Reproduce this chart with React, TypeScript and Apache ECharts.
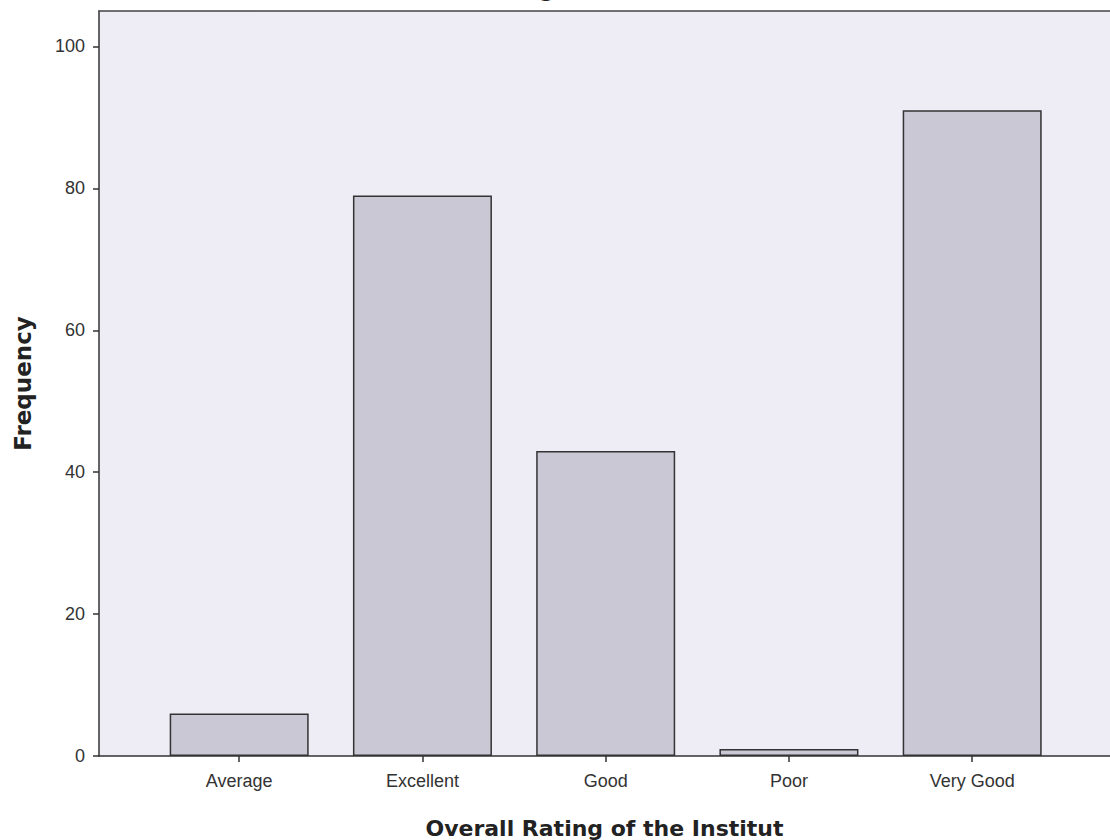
import React, { useEffect, useRef } from "react";
import * as echarts from "echarts";

const categories = ["Average", "Excellent", "Good", "Poor", "Very Good"];
const frequencies = [6, 79, 43, 1, 91];
const yTicks = [0, 20, 40, 60, 80, 100];
const xTitle = "Overall Rating of the Institut";
const yTitle = "Frequency";

export default function App() {
  const ref = useRef<HTMLDivElement>(null);
  useEffect(() => {
    if (!ref.current) return;
    const chart = echarts.init(ref.current, null, { renderer: "svg" });
    const positions = categories.map((_, i) => i);
    chart.setOption({
      animation: false,
      backgroundColor: "#ffffff",
      graphic: [
        {
          type: "text",
          left: 377,
          top: -22,
          style: {
            text: xTitle,
            font: "bold 22px 'DejaVu Sans'",
            fill: "#222",
          },
        },
      ],
      grid: {
        left: 99,
        right: 0,
        top: 11,
        bottom: 840 - 756,
        outerBoundsMode: "none",
        containLabel: false,
        show: true,
        backgroundColor: "#eeecf5",
        borderWidth: 0,
      },
      xAxis: [
        {
          type: "value",
          min: -0.765,
          max: 4.752,
          name: xTitle,
          nameLocation: "middle",
          nameGap: 61,
          nameTextStyle: {
            fontFamily: "DejaVu Sans",
            fontWeight: "bold",
            fontSize: 22,
            color: "#222",
          },
          splitLine: { show: false },
          axisLine: { show: true, onZero: false, lineStyle: { color: "#333", width: 1.5 } },
          axisTick: {
            show: true,
            customValues: positions,
            length: 6,
            lineStyle: { color: "#333", width: 1.5 },
          },
          axisLabel: {
            customValues: positions,
            formatter: (v: number) => categories[Math.round(v)] ?? "",
            margin: 16,
            fontFamily: "Liberation Sans",
            fontSize: 18,
            color: "#333",
          },
        },
        {
          type: "value",
          position: "top",
          min: -0.765,
          max: 4.752,
          splitLine: { show: false },
          axisLine: { show: true, onZero: false, lineStyle: { color: "#444", width: 1.5 } },
          axisTick: { show: false },
          axisLabel: { show: false },
        },
      ],
      yAxis: {
        type: "value",
        min: 0,
        max: 105,
        interval: 20,
        name: yTitle,
        nameLocation: "middle",
        nameGap: 65,
        nameTextStyle: {
          fontFamily: "DejaVu Sans",
          fontWeight: "bold",
          fontSize: 23,
          color: "#222",
        },
        splitLine: { show: false },
        axisLine: { show: true, onZero: false, lineStyle: { color: "#333", width: 1.5 } },
        axisTick: {
          show: true,
          customValues: yTicks,
          length: 6,
          lineStyle: { color: "#333", width: 1.5 },
        },
        axisLabel: {
          customValues: yTicks,
          margin: 14,
          fontFamily: "Liberation Sans",
          fontSize: 18,
          color: "#333",
        },
      },
      series: [
        {
          type: "bar",
          xAxisIndex: 0,
          data: frequencies.map((f, i) => [positions[i], f]),
          barWidth: 139,
          itemStyle: {
            color: "#c9c8d4",
            borderColor: "#333",
            borderWidth: 1.5,
          },
        },
      ],
    });
    return () => chart.dispose();
  }, []);
  return (
    <div
      ref={ref}
      style={{ position: "fixed", left: 0, top: 0, width: 1110, height: 840 }}
    />
  );
}
